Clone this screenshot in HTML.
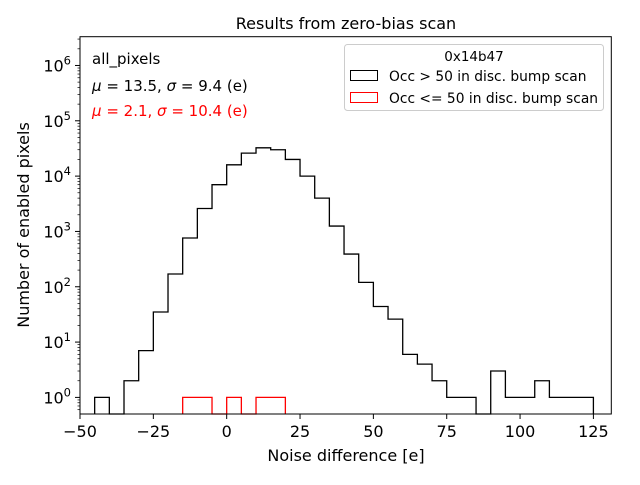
<!DOCTYPE html>
<html><head><meta charset="utf-8">
<style>
body{margin:0;background:#fff;font-family:"Liberation Sans","DejaVu Sans",sans-serif;}
svg text{font-family:"DejaVu Sans","Liberation Sans",sans-serif;}
</style></head>
<body>
<svg id="chart" width="640" height="480" viewBox="0 0 640 480">
<rect width="640" height="480" fill="#fff"/>
<text x="346" y="29" font-size="16" text-anchor="middle">Results from zero-bias scan</text>
<g id="ticks"></g>
<path id="blackHist" fill="none" stroke="#000" stroke-width="1.3"/>
<path id="redHist" fill="none" stroke="#f00" stroke-width="1.3"/>
<rect x="80" y="36.7" width="531.3" height="377.3" fill="none" stroke="#000" stroke-width="1"/>
<text x="346" y="461" font-size="16" text-anchor="middle">Noise difference [e]</text>
<text transform="translate(29,225) rotate(-90)" font-size="16" text-anchor="middle">Number of enabled pixels</text>
<text x="92" y="64" font-size="15">all_pixels</text>
<text x="92" y="91" font-size="15"><tspan font-style="italic">μ</tspan> = 13.5, <tspan font-style="italic">σ</tspan> = 9.4 (e)</text>
<text x="92" y="116" font-size="15" fill="#f00"><tspan font-style="italic">μ</tspan> = 2.1, <tspan font-style="italic">σ</tspan> = 10.4 (e)</text>
<g>
<rect x="344.5" y="44.5" width="259" height="66" rx="3" fill="#fff" stroke="#ccc"/>
<text x="474" y="61" font-size="13.5" text-anchor="middle">0x14b47</text>
<rect x="350.5" y="70.5" width="27" height="10" fill="none" stroke="#000"/>
<text x="389" y="81" font-size="13.8">Occ &gt; 50 in disc. bump scan</text>
<rect x="350.5" y="92.5" width="27" height="10" fill="none" stroke="#f00"/>
<text x="389" y="103" font-size="13.8">Occ &lt;= 50 in disc. bump scan</text>
</g>
</svg>
<script>
const binEdges = [-45,-40,-35,-30,-25,-20,-15,-10,-5,0,5,10,15,20,25,30,35,40,45,50,55,60,65,70,75,80,85,90,95,100,105,110,115,120,125];
const blackCounts = [1,0,2,7,35,170,760,2600,7000,16000,26000,32500,30000,20000,10000,4000,1250,390,120,44,26,6,4,2,1,1,0,3,1,1,2,1,1,1];
const redEdges = [-15,-10,-5,0,5,10,15,20];
const redCounts = [1,1,0,1,0,1,1];
const xTicks = [-50,-25,0,25,50,75,100,125];
const yTickExps = [0,1,2,3,4,5,6];

const L=80,R=611.3,T=36.7,B=414;
const xMin=-50,xMax=131.1,yMin=-0.30,yMax=6.52;
function xs(v){return L+(v-xMin)/(xMax-xMin)*(R-L);}
function ys(c){if(c<=0)return B;return B-(Math.log10(c)-yMin)/(yMax-yMin)*(B-T);}
function stepPath(edges,counts){
  let d='M'+xs(edges[0])+','+B;
  for(let i=0;i<counts.length;i++){
    const y=ys(counts[i]);
    d+=' L'+xs(edges[i])+','+y+' L'+xs(edges[i+1])+','+y;
  }
  d+=' L'+xs(edges[edges.length-1])+','+B;
  return d;
}
document.getElementById('blackHist').setAttribute('d',stepPath(binEdges,blackCounts));
document.getElementById('redHist').setAttribute('d',stepPath(redEdges,redCounts));

const NS='http://www.w3.org/2000/svg';
const g=document.getElementById('ticks');
xTicks.forEach(v=>{
  const x=xs(v);
  const l=document.createElementNS(NS,'line');
  l.setAttribute('x1',x);l.setAttribute('x2',x);l.setAttribute('y1',B);l.setAttribute('y2',B+5);
  l.setAttribute('stroke','#000');
  
  
  g.appendChild(l);
  const t=document.createElementNS(NS,'text');
  t.setAttribute('x',x);t.setAttribute('y',B+23);t.setAttribute('font-size','16');t.setAttribute('text-anchor','middle');
  t.textContent=(v<0?'\u2212'+(-v):String(v));
  
  
  g.appendChild(t);
});
yTickExps.forEach(e=>{
  const y=ys(Math.pow(10,e));
  const l=document.createElementNS(NS,'line');
  l.setAttribute('x1',L-5);l.setAttribute('x2',L);l.setAttribute('y1',y);l.setAttribute('y2',y);
  l.setAttribute('stroke','#000');
  
  
  g.appendChild(l);
  const t=document.createElementNS(NS,'text');
  t.setAttribute('x',L-9);t.setAttribute('y',y+6);t.setAttribute('font-size','16');t.setAttribute('text-anchor','end');
  t.innerHTML='10<tspan dy="-7" font-size="11.5">'+e+'</tspan>';
  
  
  g.appendChild(t);
});
for(let e=-1;e<=6;e++){
  for(let m=2;m<=9;m++){
    const lv=e+Math.log10(m);
    if(lv<yMin||lv>yMax)continue;
    const y=ys(Math.pow(10,lv));
    const l=document.createElementNS(NS,'line');
    l.setAttribute('x1',L-2.5);l.setAttribute('x2',L);l.setAttribute('y1',y);l.setAttribute('y2',y);
    l.setAttribute('stroke','#000');l.setAttribute('stroke-width','0.7');
    
    
    g.appendChild(l);
  }
}
</script>
</body></html>
